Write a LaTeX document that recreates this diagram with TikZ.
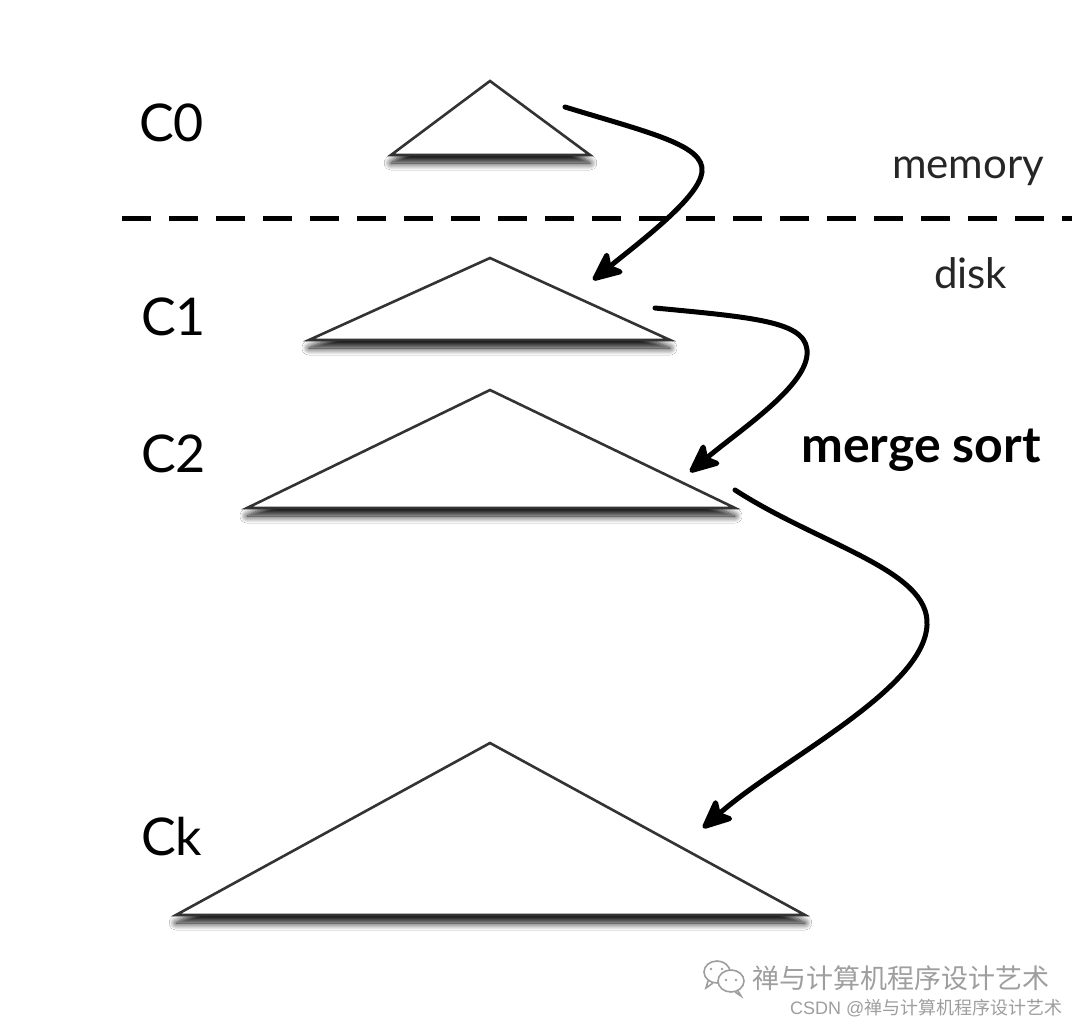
\documentclass[tikz,border=0pt]{standalone}
\usepackage{fontspec}
\setmainfont{Lato}
\newfontfamily\cjk{Noto Sans CJK SC}
\usetikzlibrary{arrows.meta,shadows.blur}
\tikzset{
  tri/.style={draw=black!80, line width=2.6pt, fill=white, line join=miter,
    blur shadow={shadow xshift=0pt, shadow yshift=-8pt, shadow blur radius=7pt, shadow blur steps=12, shadow opacity=95}},
  lbl/.style={anchor=base west, inner sep=0pt, font=\fontsize{52}{60}\selectfont},
  small/.style={anchor=base west, inner sep=0pt, font=\fontsize{42}{48}\selectfont, text=black!85},
  flow/.style={line width=5pt, black, line cap=round,
    -{Stealth[length=35pt, width=31pt, inset=8pt, round]}},
  sep/.style={line width=5pt, dash pattern=on 29pt off 18pt, black},
  wm/.style={text=black!38, inner sep=0pt, anchor=base west}
}
\begin{document}
\begin{tikzpicture}[x=1pt, y=-1pt]
\useasboundingbox[fill=white] (0,0) rectangle (1080,1025);

% separator
\coordinate (sepL) at (122,218);
\coordinate (sepR) at (1072,218);
\draw[sep] (sepL) -- (sepR);

% triangles
\coordinate (t0a) at (490,81);  \coordinate (t0l) at (391,155); \coordinate (t0r) at (590,155);
\coordinate (t1a) at (490,258); \coordinate (t1l) at (309,340); \coordinate (t1r) at (670,340);
\coordinate (t2a) at (490,390); \coordinate (t2l) at (247,508); \coordinate (t2r) at (735,508);
\coordinate (tka) at (490,743); \coordinate (tkl) at (176,915); \coordinate (tkr) at (805,915);
\draw[tri] (t0l) -- (t0a) -- (t0r) -- cycle;
\draw[tri] (t1l) -- (t1a) -- (t1r) -- cycle;
\draw[tri] (t2l) -- (t2a) -- (t2r) -- cycle;
\draw[tri] (tkl) -- (tka) -- (tkr) -- cycle;

% labels
\node[lbl] (c0) at (139,142) {C0};
\node[lbl] (c1) at (141,335) {C1};
\node[lbl] (c2) at (141,472) {C2};
\node[lbl] (ck) at (141,855) {Ck};
\node[small] (mem) at (892,178) {memory};
\node[small] (disk) at (934,288) {disk};
\node[anchor=base west, inner sep=0pt, font=\fontsize{50}{58}\selectfont\bfseries] (ms) at (801,462) {merge sort};

% arrows
\coordinate (a0s) at (565,107); \coordinate (a0e) at (593,280);
\coordinate (a1s) at (655,308); \coordinate (a1e) at (690,472);
\coordinate (a2s) at (735,490); \coordinate (a2e) at (703,828);
\draw[flow] (a0s) .. controls (650,133) and (705,145) .. (702,172)
  .. controls (699,197) and (645,238) .. (a0e);
\draw[flow] (a1s) .. controls (760,318) and (810,322) .. (807,355)
  .. controls (804,388) and (740,430) .. (a1e);
\draw[flow] (a2s) .. controls (820,545) and (930,570) .. (927,625)
  .. controls (924,690) and (780,760) .. (a2e);

% watermark
\begin{scope}[black!38, line width=1.6pt]
  \draw[fill=white] (717,972) ellipse (13pt and 11pt);
  \draw[fill=white] (731,981) ellipse (13pt and 11pt);
  \fill (711,969) circle (1.4pt) (722,969) circle (1.4pt);
  \fill (726,980) circle (1.3pt) (736,980) circle (1.3pt);
  \draw (708,981) -- (706,988) -- (713,983);
  \draw (738,991) -- (741,996) -- (735,992);
\end{scope}
\node[wm, font=\cjk\fontsize{27}{30}\selectfont] (wm1) at (752,988) {禅与计算机程序设计艺术};
\node[wm, font=\cjk\fontsize{18}{22}\selectfont] (wm2) at (790,1014) {\fontspec{Liberation Sans}CSDN @\cjk 禅与计算机程序设计艺术};
\end{tikzpicture}
\end{document}
